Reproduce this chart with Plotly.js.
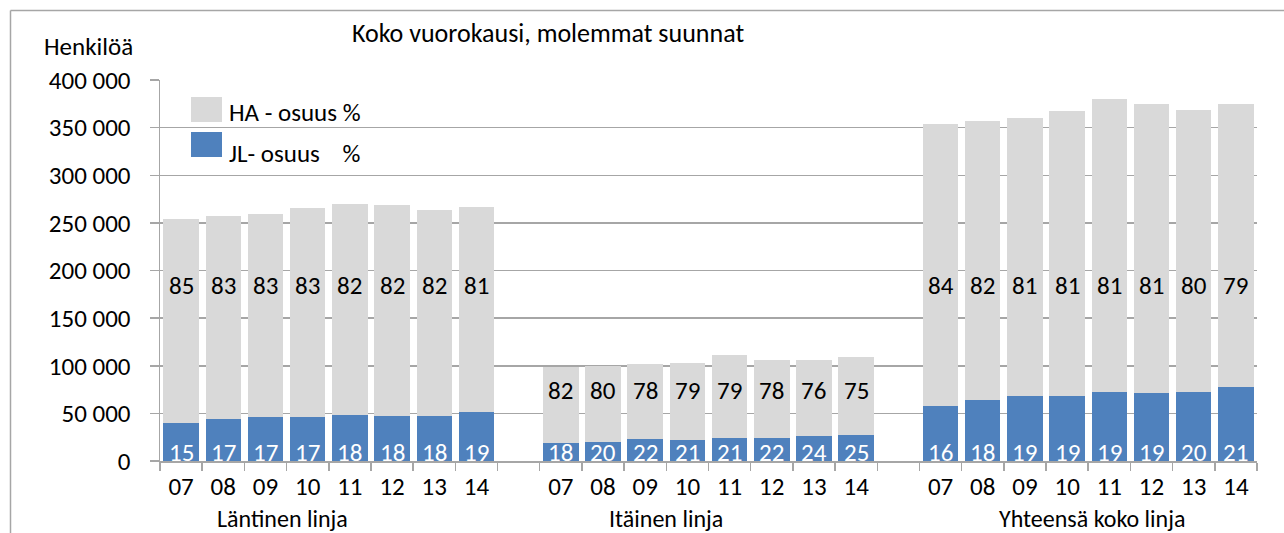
<!DOCTYPE html>
<html><head><meta charset="utf-8">
<script src="https://cdn.plot.ly/plotly-3.0.1.min.js"></script>
<style>html,body{margin:0;padding:0;background:#fff;}#chart{width:1284px;height:533px;}</style>
</head><body><div id="chart"></div>
<script>
const years = ['07','08','09','10','11','12','13','14'];
const groupNames = ['Läntinen linja','Itäinen linja','Yhteensä koko linja'];

// JL (blue, bottom) and HA (grey, top) passenger counts per group
const jlLantinen = [39600,44400,45800,46500,48600,47600,47600,51100];
const haLantinen = [214400,212600,213800,219100,221400,221400,215900,215600];
const jlItainen  = [19200,20300,23100,22400,23800,24100,25900,27600];
const haItainen  = [79800,79700,78700,80500,87200,81900,80100,81300];
const jlYht      = [58000,64400,67900,68600,72400,71000,72800,78000];
const haYht      = [295800,292200,292500,298900,307600,303500,295700,296800];

// percentage labels
const jlPctLantinen = [15,17,17,17,18,18,18,19];
const haPctLantinen = [85,83,83,83,82,82,82,81];
const jlPctItainen  = [18,20,22,21,21,22,24,25];
const haPctItainen  = [82,80,78,79,79,78,76,75];
const jlPctYht      = [16,18,19,19,19,19,20,21];
const haPctYht      = [84,82,81,81,81,81,80,79];

const FONT = 'Carlito, Calibri, Lato, sans-serif';
const FS = 25;
const BLUE = '#4f81bd', GREY = '#d9d9d9', LINE = '#a6a6a6';

const jlGroups = [jlLantinen, jlItainen, jlYht];
const haGroups = [haLantinen, haItainen, haYht];
const jlPctGroups = [jlPctLantinen, jlPctItainen, jlPctYht];
const haPctGroups = [haPctLantinen, haPctItainen, haPctYht];
const haLabelY = [184000, 73500, 184000];
const groupLabelX = [2.4, 11.5, 21.6];

let xs = [], jl = [], ha = [], tickText = [];
const annotations = [];
for (let g = 0; g < 3; g++) {
  for (let i = 0; i < years.length; i++) {
    const x = g * 9 + i;
    xs.push(x); jl.push(jlGroups[g][i]); ha.push(haGroups[g][i]); tickText.push(years[i]);
    annotations.push({x: x, y: 9000, xref:'x', yref:'y', text: String(jlPctGroups[g][i]),
      showarrow:false, yanchor:'middle', font:{family:FONT, size:FS, color:'#ffffff'}});
    annotations.push({x: x, y: haLabelY[g], xref:'x', yref:'y', text: String(haPctGroups[g][i]),
      showarrow:false, yanchor:'middle', font:{family:FONT, size:FS, color:'#000000'}});
  }
  annotations.push({x: groupLabelX[g], y: 0, xref:'x', yref:'y', yshift:-57, text: groupNames[g],
    showarrow:false, yanchor:'middle', font:{family:FONT, size:24, color:'#000000'}});
}
const boundaries = [];
for (let b = 0; b <= 26; b++) boundaries.push(b - 0.5);

const pw = 1284 - 160 - 27, ph = 533 - 80 - 72;
function px(xp){ return (xp - 160) / pw; }
function py(yp){ return (533 - 72 - yp) / ph; }

// legend (custom)
annotations.push({xref:'paper', yref:'paper', x: px(227), y: py(113), xanchor:'left', yanchor:'middle',
  text:'HA - osuus %', showarrow:false, font:{family:FONT, size:FS, color:'#000'}});
annotations.push({xref:'paper', yref:'paper', x: px(227), y: py(153), xanchor:'left', yanchor:'middle',
  text:'JL- osuus\u00a0\u00a0\u00a0\u00a0%', showarrow:false, font:{family:FONT, size:FS, color:'#000'}});
// y axis title
annotations.push({xref:'paper', yref:'paper', x: px(88), y: py(47), xanchor:'center', yanchor:'middle',
  text:'Henkilöä', showarrow:false, font:{family:FONT, size:FS, color:'#000'}});

const traces = [
  {type:'bar', x: xs, y: jl, name:'JL- osuus %', marker:{color: BLUE}, hoverinfo:'y', showlegend:false},
  {type:'bar', x: xs, y: ha, name:'HA - osuus %', marker:{color: GREY}, hoverinfo:'y', showlegend:false}
];

const layout = {
  width:1284, height:533,
  margin:{l:160, r:27, t:80, b:72},
  paper_bgcolor:'#fff', plot_bgcolor:'#fff',
  barmode:'stack', bargap:0.16,
  separators:', ',
  font:{family:FONT, size:FS, color:'#000'},
  title:{text:'Koko vuorokausi, molemmat suunnat', x:px(548), xanchor:'center', xref:'paper', y:1 - 33/533, yanchor:'middle',
    font:{family:FONT, size:26, color:'#000'}},
  xaxis:{range:[-0.5, 25.5], tickmode:'array', tickvals: xs, ticktext: tickText, ticks:'',
    showline:true, linecolor:LINE, linewidth:1.5, showgrid:false, zeroline:false,
    ticklabelstandoff:2, tickfont:{family:FONT, size:FS, color:'#000'},
    minor:{tickmode:'array', tickvals: boundaries, ticks:'outside', ticklen:8, tickwidth:1.5, tickcolor:LINE, showgrid:false}},
  yaxis:{range:[0, 400000], dtick:50000, tickformat:',.0f', ticks:'outside', ticklen:9, tickwidth:1.5, tickcolor:LINE,
    showline:true, linecolor:LINE, linewidth:1.5, showgrid:true, gridcolor:LINE, gridwidth:1.5, zeroline:false,
    ticklabelstandoff:14, tickfont:{family:FONT, size:FS, color:'#000'}},
  annotations: annotations,
  shapes:[
    {type:'rect', xref:'paper', yref:'paper', x0:px(191), x1:px(222), y0:py(122), y1:py(97), fillcolor:GREY, line:{width:0}},
    {type:'rect', xref:'paper', yref:'paper', x0:px(191), x1:px(222), y0:py(157), y1:py(132), fillcolor:BLUE, line:{width:0}},
    {type:'line', xref:'paper', yref:'paper', x0:px(10.5), x1:px(1284), y0:py(10.5), y1:py(10.5), line:{color:LINE, width:1.5}},
    {type:'line', xref:'paper', yref:'paper', x0:px(10.5), x1:px(10.5), y0:py(10.5), y1:py(533), line:{color:LINE, width:1.5}}
  ]
};

Plotly.newPlot('chart', traces, layout, {displayModeBar:false, staticPlot:true});
</script></body></html>
